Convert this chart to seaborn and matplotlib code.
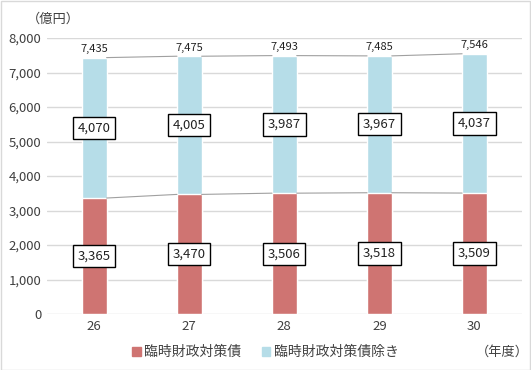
import pandas as pd
import matplotlib.pyplot as plt
import seaborn as sns
from matplotlib.patches import Patch

# datos
years = ['26', '27', '28', '29', '30']
rinji = [3365, 3470, 3506, 3518, 3509]        # 臨時財政対策債
nozoki = [4070, 4005, 3987, 3967, 4037]       # 臨時財政対策債除き
totals = [7435, 7475, 7493, 7485, 7546]

red = '#CF7472'
blue = '#B6DDE8'

sns.set_style('white')
plt.rcParams['font.family'] = ['Noto Sans CJK JP', 'DejaVu Sans']

df = pd.DataFrame({'year': years, 'rinji': rinji, 'nozoki': nozoki, 'total': totals})

fig = plt.figure(figsize=(5.31, 3.70), dpi=100)
ax = fig.add_axes([0.088, 0.151, 0.895, 0.746])

# barra total (azul) y encima la parte roja
bw = 0.26
sns.barplot(data=df, x='year', y='total', color=blue, width=bw, saturation=1, ax=ax)
sns.barplot(data=df, x='year', y='rinji', color=red, width=bw, saturation=1, ax=ax)

# lineas de serie entre barras
hw = bw / 2
for i in range(len(years) - 1):
    ax.plot([i + hw, i + 1 - hw], [rinji[i], rinji[i + 1]], color='#A0A0A0', lw=0.8, zorder=3)
    ax.plot([i + hw, i + 1 - hw], [totals[i], totals[i + 1]], color='#A0A0A0', lw=0.8, zorder=3)

box = dict(boxstyle='square,pad=0.35', fc='white', ec='black', lw=1)
for i in range(len(years)):
    ax.text(i, rinji[i] / 2, f'{rinji[i]:,}', ha='center', va='center', fontsize=9.5,
            color='#222222', bbox=box, zorder=5)
    ax.text(i, rinji[i] + nozoki[i] / 2, f'{nozoki[i]:,}', ha='center', va='center', fontsize=9.5,
            color='#222222', bbox=box, zorder=5)
    ax.text(i, totals[i] + 100, f'{totals[i]:,}', ha='center', va='bottom', fontsize=8,
            color='#222222')

ax.set_ylim(0, 8000)
ax.set_xlim(-0.5, 4.5)
ax.set_yticks(range(0, 8001, 1000))
ax.set_yticklabels([f'{v:,}' for v in range(0, 8001, 1000)])
ax.yaxis.grid(True, color='#D9D9D9', lw=1)
ax.set_axisbelow(True)
for s in ax.spines.values():
    s.set_visible(False)
ax.tick_params(axis='both', length=0, labelsize=9.5, labelcolor='#404040', pad=4)
ax.set_xlabel('')
ax.set_ylabel('')

fig.text(0.05, 0.948, '（億円）', fontsize=9.5, color='#404040', ha='left', va='center')
fig.text(0.995, 0.048, '（年度）', fontsize=9.5, color='#404040', ha='right', va='center')

handles = [Patch(color=red, label='臨時財政対策債'), Patch(color=blue, label='臨時財政対策債除き')]
fig.legend(handles=handles, loc='center', bbox_to_anchor=(0.5, 0.048), ncol=2, frameon=False,
           fontsize=10, handlelength=0.6, handleheight=0.6, handletextpad=0.25, columnspacing=1.5,
           labelcolor='#404040')

# marco exterior
fig.patches.append(plt.Rectangle((0.001, 0.001), 0.997, 0.997, transform=fig.transFigure,
                                 fill=False, ec='#D9D9D9', lw=1))

fig.savefig('out.png', dpi=100)
